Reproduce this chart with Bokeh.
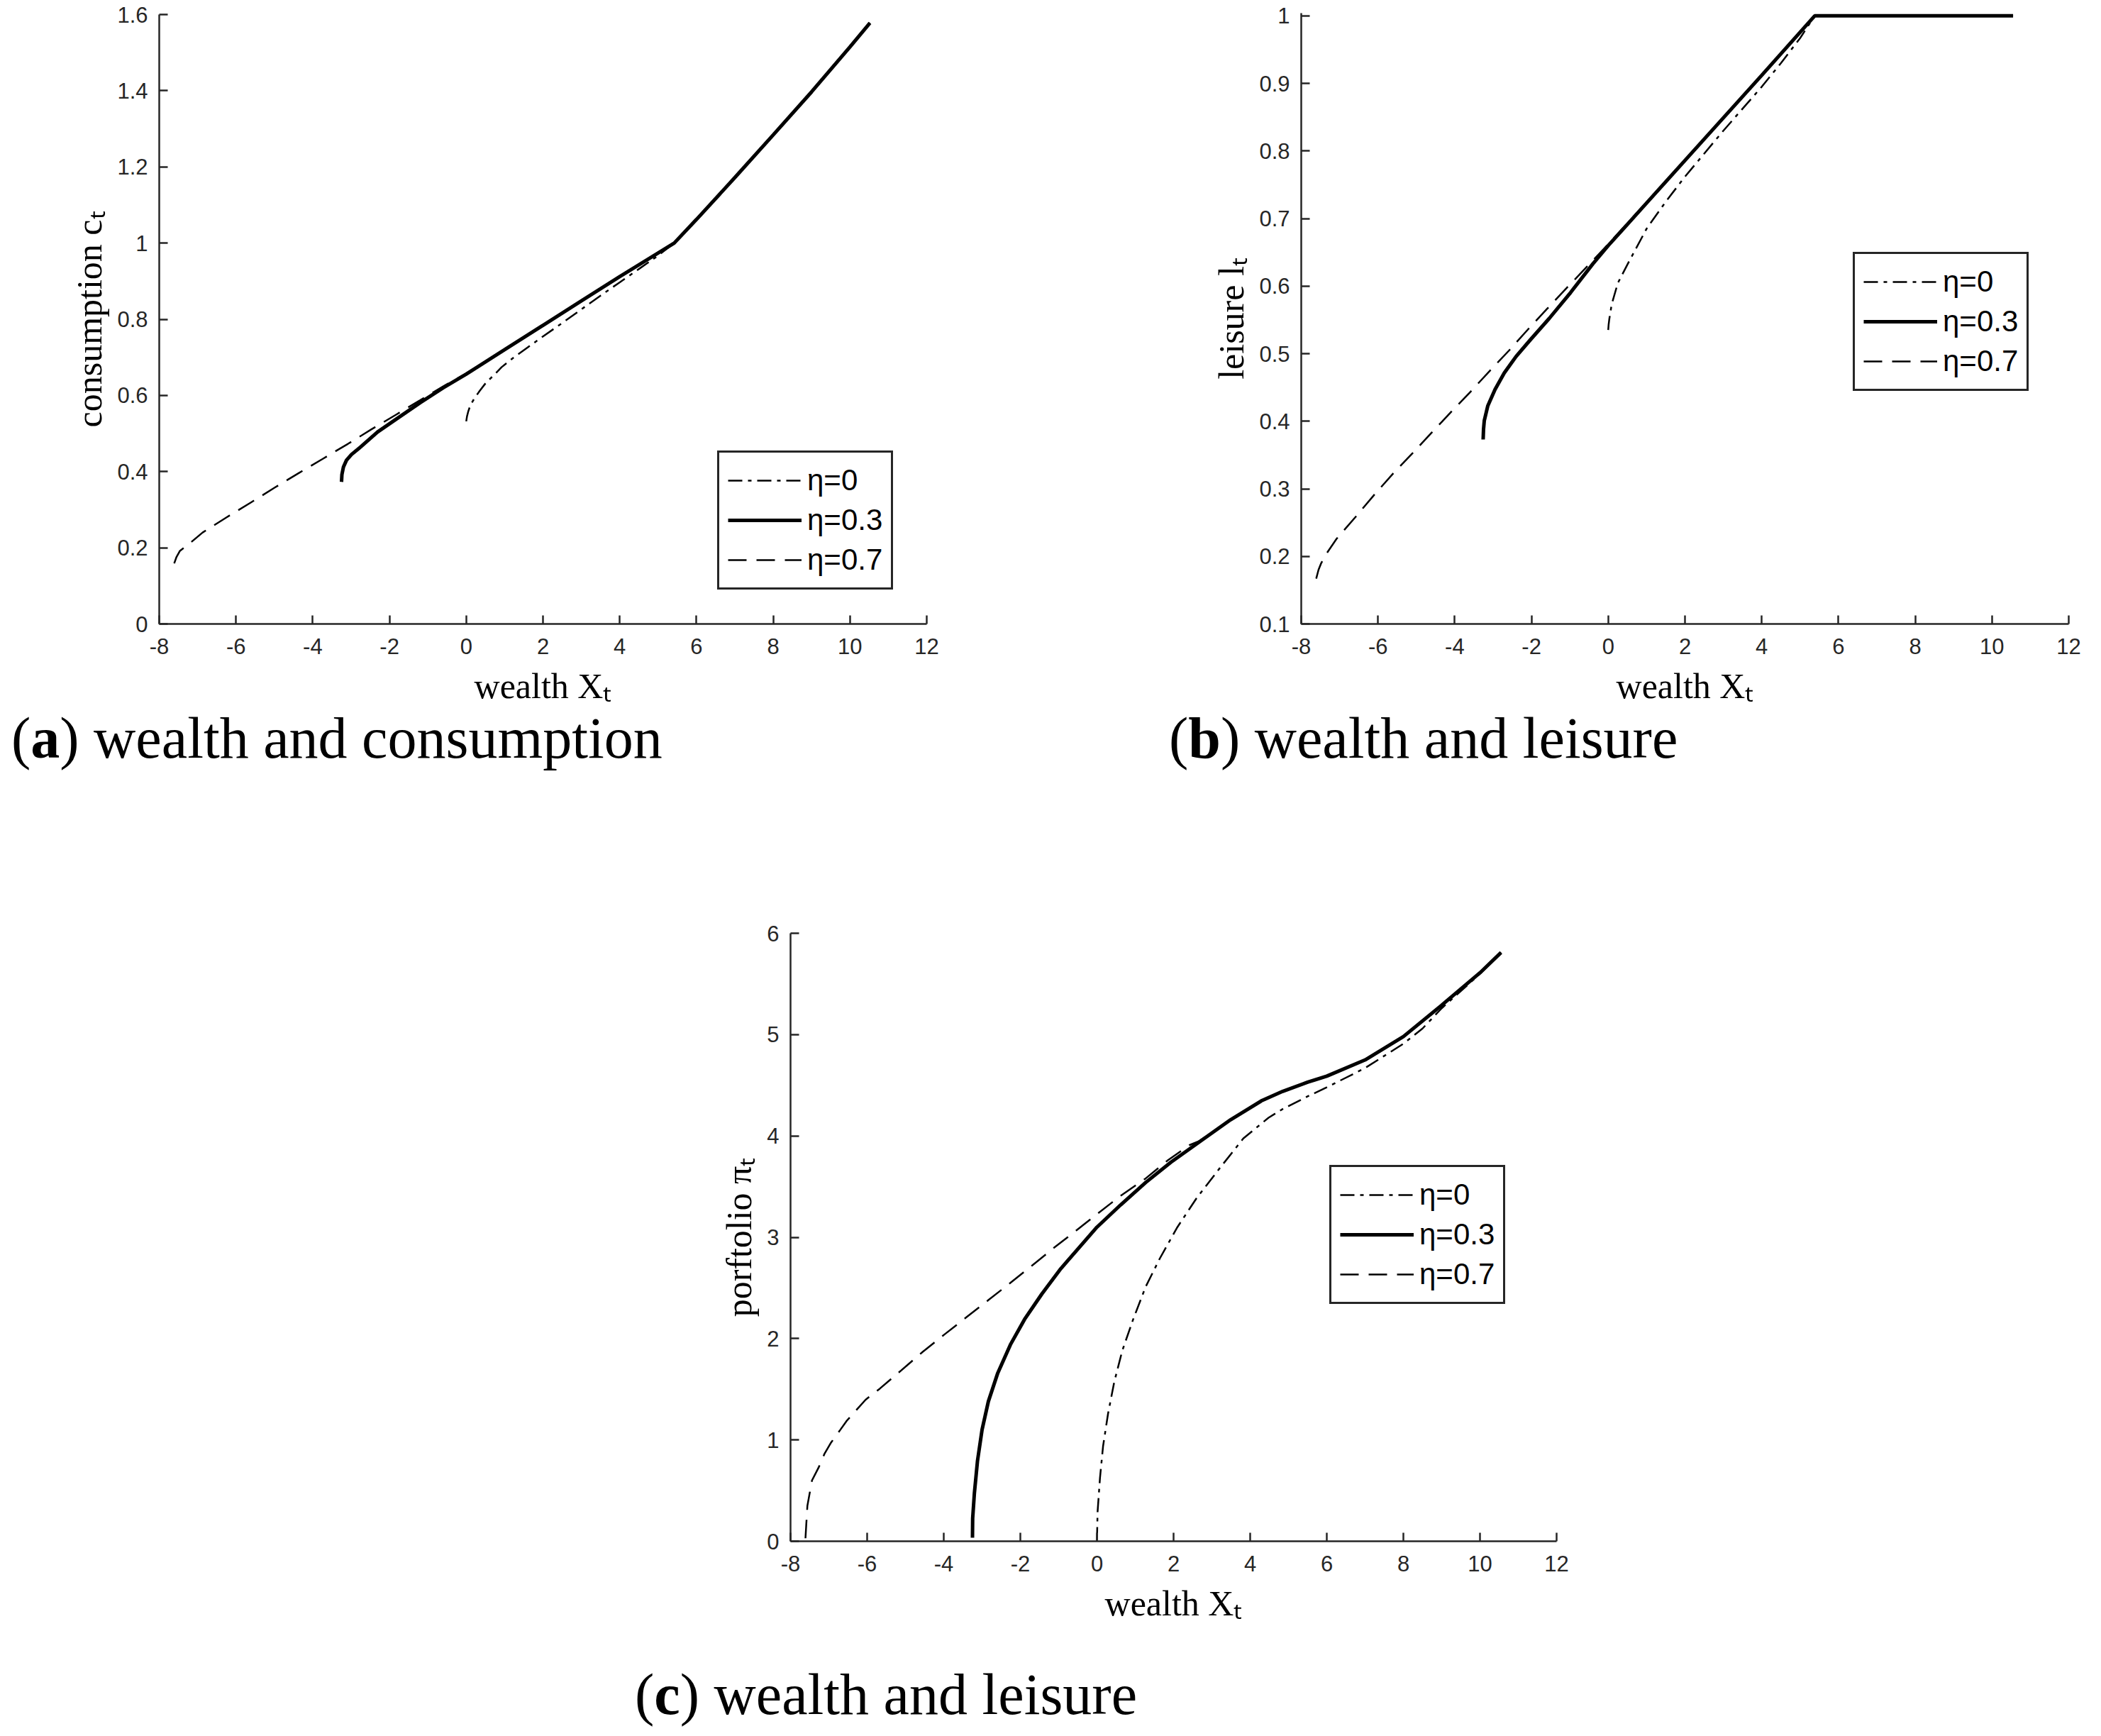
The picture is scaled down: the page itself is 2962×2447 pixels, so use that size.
from bokeh.plotting import figure
from bokeh.layouts import row, column
from bokeh.models import Range1d, FixedTicker, PrintfTickFormatter, Legend, LegendItem, Div
from bokeh.embed import file_html
from bokeh.resources import INLINE

# tick positions
wealth_ticks = [-8, -6, -4, -2, 0, 2, 4, 6, 8, 10, 12]
cons_ticks = [0, 0.2, 0.4, 0.6, 0.8, 1, 1.2, 1.4, 1.6]
leis_ticks = [0.1, 0.2, 0.3, 0.4, 0.5, 0.6, 0.7, 0.8, 0.9, 1]
port_ticks = [0, 1, 2, 3, 4, 5, 6]

legend_labels = ["η=0", "η=0.3", "η=0.7"]

# (a) consumption
a_x_eta0 = [0, 0.02, 0.05, 0.11, 0.2, 0.35, 0.52, 0.75, 0.92, 1.23, 1.6, 2.0, 2.5, 3.0, 3.5, 4.0, 4.5, 5.0, 5.42, 6, 7, 8, 9, 10, 10.52]
a_y_eta0 = [0.532, 0.545, 0.557, 0.575, 0.59, 0.612, 0.634, 0.656, 0.674, 0.699, 0.726, 0.755, 0.79, 0.826, 0.862, 0.897, 0.932, 0.967, 1.0, 1.062, 1.172, 1.284, 1.397, 1.515, 1.578]
a_x_eta3 = [-3.25, -3.24, -3.2, -3.12, -2.99, -2.75, -2.31, -1.82, -1.2, -0.6, 0, 1, 2, 3, 4, 5, 5.42, 6, 7, 8, 9, 10, 10.52]
a_y_eta3 = [0.373, 0.392, 0.412, 0.43, 0.445, 0.465, 0.504, 0.538, 0.581, 0.62, 0.656, 0.72, 0.784, 0.848, 0.912, 0.974, 1.0, 1.062, 1.172, 1.284, 1.397, 1.515, 1.578]
a_x_eta7 = [-7.61, -7.55, -7.46, -7.22, -6.87, -6.26, -5.61, -4.99, -4.35, -3.73, -3.08, -2.47, -1.82, -1.2, -0.6, 0, 1, 2, 3, 4, 5, 5.42, 6, 7, 8, 9, 10, 10.52]
a_y_eta7 = [0.159, 0.176, 0.192, 0.2105, 0.24, 0.279, 0.319, 0.358, 0.397, 0.434, 0.473, 0.511, 0.55, 0.5875, 0.624, 0.658, 0.72, 0.784, 0.848, 0.912, 0.974, 1.0, 1.062, 1.172, 1.284, 1.397, 1.515, 1.578]

# (b) leisure
b_x_eta0 = [0, 0.01, 0.03, 0.09, 0.25, 0.5, 1, 1.5, 2, 3, 4, 4.5, 5, 5.38, 10.55]
b_y_eta0 = [0.535, 0.543, 0.552, 0.573, 0.6045, 0.632, 0.685, 0.725, 0.762, 0.83, 0.895, 0.93, 0.967, 1.0, 1.0]
b_x_eta3 = [-3.26, -3.25, -3.23, -3.14, -2.95, -2.71, -2.4, -2.03, -1.54, -0.98, -0.4, 0, 1, 2, 3, 4, 5.38, 10.55]
b_y_eta3 = [0.373, 0.388, 0.401, 0.4225, 0.447, 0.4715, 0.496, 0.5205, 0.552, 0.5905, 0.633, 0.66, 0.723, 0.786, 0.849, 0.912, 1.0, 1.0]
b_x_eta7 = [-7.61, -7.55, -7.48, -7.33, -7.08, -6.59, -6.1, -5.6, -5.11, -4.62, -4.09, -3.6, -3.08, -2.58, -2.09, -1.6, -1.07, -0.49, 0, 1, 2, 3, 4, 5.38, 10.55]
b_y_eta7 = [0.167, 0.18, 0.19, 0.205, 0.226, 0.258, 0.291, 0.323, 0.352, 0.382, 0.414, 0.443, 0.475, 0.505, 0.536, 0.566, 0.598, 0.6326, 0.662, 0.724, 0.786, 0.849, 0.912, 1.0, 1.0]

# (c) portfolio
c_x_eta0 = [0, 0.016, 0.08, 0.16, 0.29, 0.45, 0.66, 0.945, 1.27, 1.64, 2.1, 2.59, 3.16, 3.82, 4.48, 4.87, 5.5, 6, 7, 8, 8.5, 9, 10, 10.55]
c_y_eta0 = [0.0, 0.29, 0.63, 0.94, 1.26, 1.57, 1.88, 2.19, 2.51, 2.79, 3.1, 3.38, 3.66, 3.975, 4.18, 4.27, 4.39, 4.48, 4.67, 4.91, 5.06, 5.26, 5.6, 5.81]
c_x_eta3 = [-3.25, -3.245, -3.2, -3.12, -3.0, -2.835, -2.59, -2.26, -1.89, -1.44, -0.945, -0.37, 0, 0.62, 1.27, 1.93, 2.67, 3.49, 4.31, 4.85, 5.5, 6, 7, 8, 9, 10, 10.55]
c_y_eta3 = [0.035, 0.225, 0.475, 0.79, 1.1, 1.38, 1.66, 1.94, 2.19, 2.44, 2.69, 2.94, 3.1, 3.32, 3.54, 3.74, 3.94, 4.16, 4.35, 4.44, 4.53, 4.59, 4.75, 4.98, 5.29, 5.61, 5.81]
c_x_eta7 = [-7.61, -7.59, -7.56, -7.44, -7.27, -7.11, -6.94, -6.7, -6.53, -6.04, -5.67, -5.135, -4.56, -3.985, -3.41, -2.835, -2.26, -1.68, -1.11, -0.53, 0.04, 0.62, 1.27, 1.85, 2.42, 2.67, 3.49, 4.31, 4.85, 5.5, 6, 7, 8, 9, 10, 10.55]
c_y_eta7 = [0.03, 0.16, 0.35, 0.6, 0.725, 0.866, 0.975, 1.1, 1.19, 1.397, 1.506, 1.678, 1.866, 2.04, 2.21, 2.38, 2.55, 2.725, 2.9, 3.07, 3.24, 3.41, 3.58, 3.76, 3.91, 3.95, 4.16, 4.35, 4.44, 4.53, 4.59, 4.75, 4.98, 5.29, 5.61, 5.81]

INK = "#262626"
TICK_FONT = "Liberation Sans"
LABEL_FONT = "Liberation Serif"

# line styles for eta = 0, 0.3, 0.7
styles = [
    dict(line_width=2.5, line_dash="20 8 5 8"),
    dict(line_width=5, line_dash="solid"),
    dict(line_width=2.5, line_dash="26 14"),
]


def make_panel(series, yticks, yr, ylabel, legend_pos, borders, fw, fh):
    left, right, top, bottom = borders
    p = figure(frame_width=fw, frame_height=fh, x_range=Range1d(-8, 12), y_range=Range1d(*yr),
               output_backend="svg", toolbar_location=None, tools="",
               min_border_left=left, min_border_right=right,
               min_border_top=top, min_border_bottom=bottom)
    p.outline_line_color = None
    p.grid.grid_line_color = None
    p.background_fill_color = "white"
    p.border_fill_color = "white"

    p.xaxis.ticker = FixedTicker(ticks=wealth_ticks)
    p.yaxis.ticker = FixedTicker(ticks=yticks)
    for ax in (p.xaxis, p.yaxis):
        ax.formatter = PrintfTickFormatter(format="%g")
        ax.axis_line_color = INK
        ax.axis_line_width = 2.5
        ax.major_tick_line_color = INK
        ax.major_tick_line_width = 2.5
        ax.major_tick_in = 12
        ax.major_tick_out = 0
        ax.minor_tick_line_color = None
        ax.major_label_text_font = TICK_FONT
        ax.major_label_text_font_size = "31px"
        ax.major_label_text_color = INK
        ax.axis_label_text_font = LABEL_FONT
        ax.axis_label_text_font_size = "50px"
        ax.axis_label_text_font_style = "normal"
        ax.axis_label_text_color = "black"
    p.xaxis.major_label_standoff = 20
    p.yaxis.major_label_standoff = 16
    p.xaxis.axis_label = "wealth Xₜ"
    p.yaxis.axis_label = ylabel
    p.xaxis.axis_label_standoff = 14
    p.yaxis.axis_label_standoff = 8

    items = []
    for (xs, ys), st, lab in zip(series, styles, legend_labels):
        r = p.line(xs, ys, line_color="black", **st)
        items.append(LegendItem(label=lab, renderers=[r]))

    legend = Legend(items=items, location=legend_pos)
    legend.label_text_font = TICK_FONT
    legend.label_text_font_size = "42px"
    legend.label_text_color = "black"
    legend.glyph_width = 104
    legend.glyph_height = 54
    legend.label_standoff = 8
    legend.padding = 12
    legend.spacing = 2
    legend.margin = 0
    legend.border_line_color = INK
    legend.border_line_width = 3
    legend.border_line_alpha = 1
    legend.background_fill_color = "white"
    legend.background_fill_alpha = 1
    p.add_layout(legend)
    return p


def caption(letter, text, width, height, pad_left, pad_top):
    html = (f'<div style="font-family: \'Liberation Serif\'; font-size: 82px; line-height: 64px; '
            f'color: black; white-space: nowrap; padding-left: {pad_left}px; padding-top: {pad_top}px;">'
            f'(<b>{letter}</b>) {text}</div>')
    return Div(text=html, width=width, height=height)


pa = make_panel([(a_x_eta0, a_y_eta0), (a_x_eta3, a_y_eta3), (a_x_eta7, a_y_eta7)],
                cons_ticks, (0, 1.6), "consumption cₜ", (787, 48),
                (224, 186, 20, 125), 1082, 859)

pb = make_panel([(b_x_eta0, b_y_eta0), (b_x_eta3, b_y_eta3), (b_x_eta7, b_y_eta7)],
                leis_ticks, (0.1, 1.004), "leisure lₜ", (778, 328),
                (332, 30, 18, 125), 1082, 861)

pc = make_panel([(c_x_eta0, c_y_eta0), (c_x_eta3, c_y_eta3), (c_x_eta7, c_y_eta7)],
                port_ticks, (0, 6), "porftolio πₜ", (760, 334),
                (1114, 100, 163, 125), 1080, 857)

cap_a = caption("a", "wealth and consumption", 1492, 138, 11, 0)
cap_b = caption("b", "wealth and leisure", 1444, 138, 141, 0)
cap_c = caption("c", "wealth and leisure", 2292, 140, 890, 55)

layout = column(row(column(pa, cap_a), column(pb, cap_b)), column(pc, cap_c))

open("out.html", "w").write(file_html(layout, INLINE))
